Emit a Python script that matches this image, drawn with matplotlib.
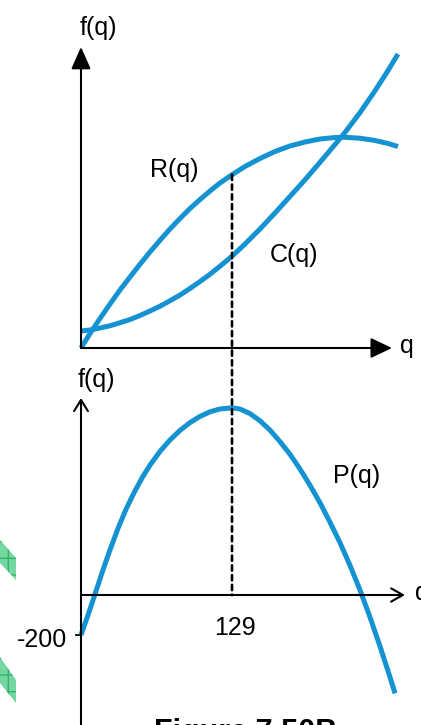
import matplotlib
matplotlib.use("Agg")
import matplotlib.pyplot as plt
from matplotlib.patches import ConnectionPatch, Polygon

plt.rcParams['font.family'] = ['Liberation Sans', 'DejaVu Sans']

# ---------------- data ----------------
q_top = [0, 7.7, 16.2, 24.8, 33.3, 41.9, 50.4, 58.9, 67.5, 76.0, 84.6, 93.1, 101.7, 110.2,
         118.7, 129, 140.1, 152.9, 165.7, 178.5, 191.4, 204.2, 217.0, 225.5, 238.4, 251.2,
         262.3, 270.8]
R_vals = [0, 58, 118, 176, 232, 284, 335, 384, 431, 476, 518, 558, 594, 628,
          660, 693, 726, 758, 786, 808, 824, 836, 842, 843, 839, 830, 818, 806]
C_vals = [68, 72, 80, 89, 101, 114, 130, 148, 167, 189, 212, 238, 266, 295,
          327, 367, 416, 476, 540, 606, 673, 743, 814, 862, 942, 1029, 1110, 1176]

q_bot = [0, 6.0, 12.0, 17.9, 24.8, 31.6, 38.4, 45.3, 52.1, 58.9, 67.5, 76.0, 84.6, 93.1,
         101.7, 110.2, 118.7, 129, 135.8, 144.4, 152.9, 161.5, 170.0, 178.6, 187.1, 195.6,
         204.2, 212.7, 221.3, 229.8, 238.4, 246.9, 255.4, 264.0, 268.3]
P_vals = [-200, -100, 5, 110, 226, 333, 428, 511, 585, 649, 718, 775, 823, 862,
          893, 916, 930, 936, 930, 907, 871, 824, 767, 703, 630, 549,
          461, 364, 261, 148, 24, -111, -256, -411, -492]

q_star = 129
P_intercept = -200
q_tick_label = "129"
y_tick_label = "-200"

BLUE = '#1592d2'
W, H = 421, 725

fig = plt.figure(figsize=(W / 100, H / 100), dpi=100)

# pixel -> data mapping for layout
PX_PER_Q = 151 / 129.0
X0 = 81


def qlim():
    return (-X0 / PX_PER_Q, (W - X0) / PX_PER_Q)


line_kw = dict(color=BLUE, lw=3.6, solid_capstyle='butt', solid_joinstyle='round', zorder=3)

# ---------------- top panel ----------------
top_h = 362
ax_top = fig.add_axes([0, (H - top_h) / H, 1, top_h / H])
ax_top.set_xlim(*qlim())
ax_top.set_ylim((348 - 362) * 4, 348 * 4)
ax_top.axis('off')

ax_top.plot(q_top, R_vals, **line_kw)
ax_top.plot(q_top, C_vals, **line_kw)

ax_top.annotate('', xy=(0, (348 - 47) * 4), xytext=(0, 0),
                arrowprops=dict(arrowstyle='-|>,head_length=1.35,head_width=0.6',
                                lw=1.5, color='black', shrinkA=0, shrinkB=0,
                                mutation_scale=10))
ax_top.annotate('', xy=((392 - X0) / PX_PER_Q, 0), xytext=(0, 0),
                arrowprops=dict(arrowstyle='-|>,head_length=1.3,head_width=0.62',
                                lw=1.5, color='black', shrinkA=0, shrinkB=0,
                                mutation_scale=10))

# ---------------- bottom panel ----------------
ax_bot = fig.add_axes([0, 0, 1, (H - top_h) / H])
ax_bot.set_xlim(*qlim())
ax_bot.set_ylim((595 - 725) * 5, (595 - top_h) * 5)
ax_bot.axis('off')

ax_bot.plot(q_bot, P_vals, **line_kw)

ax_bot.annotate('', xy=(0, (595 - 398) * 5), xytext=(0, (595 - 725) * 5),
                arrowprops=dict(arrowstyle='->,head_length=0.8,head_width=0.5',
                                lw=1.5, color='black', shrinkA=0, shrinkB=0,
                                mutation_scale=10))
ax_bot.annotate('', xy=((405 - X0) / PX_PER_Q, 0), xytext=(0, 0),
                arrowprops=dict(arrowstyle='->,head_length=0.85,head_width=0.48',
                                lw=1.5, color='black', shrinkA=0, shrinkB=0,
                                mutation_scale=10))
# -200 tick
ax_bot.plot([-5 / PX_PER_Q, 0], [P_intercept, P_intercept], color='black', lw=1.3)

# dashed line at q*, from R(q*) down to the bottom q-axis
R_at_star = R_vals[q_top.index(q_star)]
con = ConnectionPatch(xyA=(q_star, R_at_star), coordsA=ax_top.transData,
                      xyB=(q_star, 0), coordsB=ax_bot.transData,
                      color='black', lw=1.9, linestyle=(0, (2.0, 1.7)), zorder=2)
fig.add_artist(con)


# ---------------- texts (placed in figure pixels) ----------------
def ftext(px, py, s, **kw):
    fig.text(px / W, 1 - py / H, s, **kw)


FS = 18
ftext(98, 35, 'f(q)', fontsize=FS, ha='center', va='baseline')
ftext(174, 177, 'R(q)', fontsize=FS, ha='center', va='baseline')
ftext(294, 262, 'C(q)', fontsize=FS, ha='center', va='baseline')
ftext(400, 353, 'q', fontsize=FS, ha='left', va='baseline')

ftext(96, 387, 'f(q)', fontsize=FS, ha='center', va='baseline')
ftext(357, 483, 'P(q)', fontsize=FS, ha='center', va='baseline')
ftext(235, 635, q_tick_label, fontsize=FS, ha='center', va='baseline')
ftext(67, 647, y_tick_label, fontsize=FS, ha='right', va='baseline')
ftext(415, 600, 'q', fontsize=FS, ha='left', va='baseline')

ftext(246, 741, 'Figure 7.50B', fontsize=22, fontweight='bold', ha='center',
      va='baseline')

# green watermark fragments at the left edge
for pts in ([(0, 540), (16, 558), (16, 580), (0, 563)],
            [(0, 657), (16, 680), (16, 703), (0, 683)]):
    poly = Polygon([(x / W, 1 - y / H) for x, y in pts], closed=True,
                   transform=fig.transFigure, facecolor='#74d6a0',
                   edgecolor='#35b26a', hatch='+', lw=0)
    fig.add_artist(poly)

fig.savefig('out.png', dpi=100)
